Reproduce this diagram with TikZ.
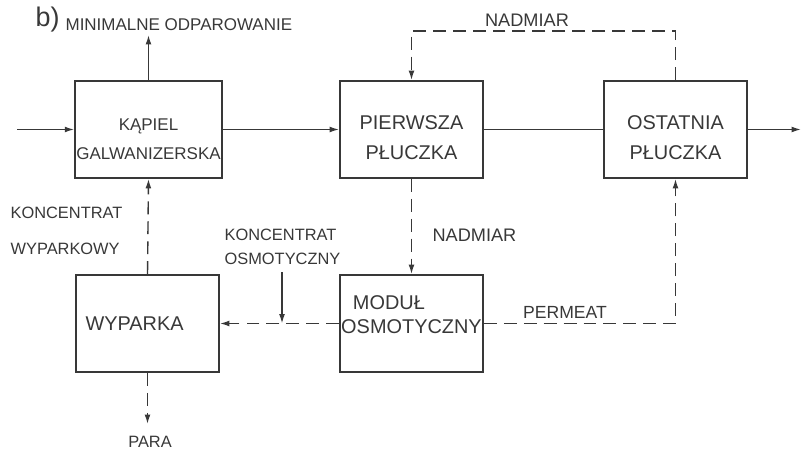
\documentclass[tikz,border=0pt]{standalone}
\usepackage{fontspec}
\setmainfont{Liberation Sans}
\usetikzlibrary{arrows.meta}
\definecolor{ink}{HTML}{383838}
\newcommand{\topstrut}{\rule{0pt}{26pt}}

\begin{document}
\begin{tikzpicture}[x=.03cm, y=-.03cm, color=ink, line width=1.2pt,
  >={Latex[length=8pt,width=5pt]},
  every node/.style={font=\fontsize{14}{17}\selectfont, text=ink},
  box/.style={draw, line width=1.6pt, minimum width=4.29cm, minimum height=2.91cm,
    align=center, font=\fontsize{17}{25}\selectfont},
  flow/.style={dash pattern=on 11pt off 6pt}]
\useasboundingbox (0,0) rectangle (809,452);
\node[box, inner xsep=1pt, font=\fontsize{14.5}{25}\selectfont] (K) at (148.5,129.5) {\topstrut KĄPIEL\\GALWANIZERSKA};
\node[box] (P) at (411.5,129.5) {\topstrut PIERWSZA\\PŁUCZKA};
\node[box] (O) at (675.5,129.5) {\topstrut OSTATNIA\\PŁUCZKA};
\node[box, inner sep=0pt, text depth=16pt, align=left, font=\fontsize{17}{20.5}\selectfont] (M) at (411.5,323.5) {\hspace*{10pt}MODUŁ\\OSMOTYCZNY};
\node[box] (W) at (147.5,323.5) {WYPARKA\hspace*{22pt}};
\coordinate (in) at (17,129.5); \coordinate (out) at (801,129.5);
\coordinate (vap) at (148.5,35); \coordinate (para) at (147.5,424);
\coordinate (conc) at (282,272);
\draw[->] (in) -- (K.west);
\draw[->] (K.east) -- (P.west);
\draw (P.east) -- (O.west);
\draw[->] (O.east) -- (out);
\draw[->] (K.north) -- (vap);
\draw[flow,->] (O.north) -- ++(0,-49) -| (P.north);
\draw[flow,->] (P.south) -- (M.north);
\draw[flow,->] (M.west) -- (W.east);
\draw[->] (conc) -- (conc |- W.east);
\draw[flow,->] (M.east) -| (O.south);
\draw[flow,->] (W.north) -- (K.south);
\draw[flow,->] (W.south) -- (para);
\node[anchor=west, font=\fontsize{23}{23}\selectfont] (b) at (31,20) {b)};
\node[anchor=west, font=\fontsize{14.5}{17}\selectfont] (evap) at (61,25) {MINIMALNE ODPAROWANIE};
\node[font=\fontsize{15.5}{17}\selectfont] (exc1) at (527,20) {NADMIAR};
\node[anchor=west, font=\fontsize{15.5}{17}\selectfont] (exc2) at (428,235) {NADMIAR};
\node[font=\fontsize{15}{17}\selectfont] (perm) at (565,312) {PERMEAT};
\node[anchor=west, align=left, font=\fontsize{14}{31}\selectfont] (cw) at (6,231) {KONCENTRAT\\WYPARKOWY};
\node[anchor=west, align=left, font=\fontsize{14}{20}\selectfont] (co) at (220,247) {KONCENTRAT\\OSMOTYCZNY};
\node[inner sep=1pt] (steam) at (150,442) {PARA};
\end{tikzpicture}
\end{document}
